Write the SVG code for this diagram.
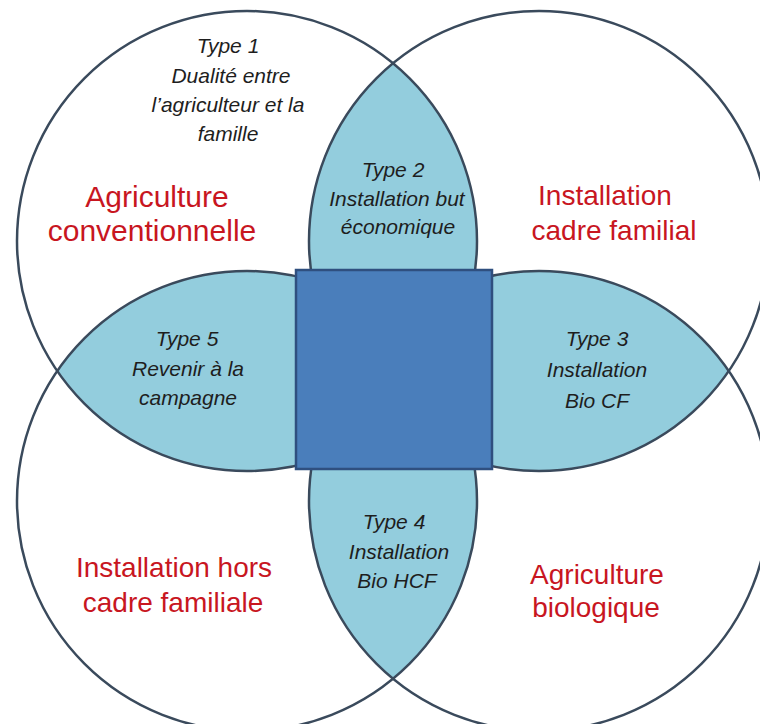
<svg xmlns="http://www.w3.org/2000/svg" width="760" height="724" viewBox="0 0 760 724">
<style>
.lens{fill:#93CDDD;stroke:none}
.ring{fill:none;stroke:#3A4A5C;stroke-width:2.5}
.it{font-family:"Liberation Sans",Arial,sans-serif;font-style:italic;font-size:21px;fill:#1E1E1E;text-anchor:middle}
.red{font-family:"Liberation Sans",Arial,sans-serif;font-size:28px;fill:#C8161F;text-anchor:middle}
.big{font-size:30px}
</style>
<defs>
<clipPath id="cTL"><circle cx="247" cy="241" r="230"/></clipPath>
<clipPath id="cTR"><circle cx="539" cy="241" r="230"/></clipPath>
<clipPath id="cBL"><circle cx="247" cy="501" r="230"/></clipPath>
<clipPath id="cBR"><circle cx="539" cy="501" r="230"/></clipPath>
</defs>
<rect x="0" y="0" width="760" height="724" fill="#FFFFFF"/>
<g id="lens-top">
<circle class="lens" cx="539" cy="241" r="230" clip-path="url(#cTL)"/>
<text class="it" x="393" y="177">Type 2</text>
<text class="it" x="397" y="206">Installation but</text>
<text class="it" x="398" y="234">économique</text>
</g>
<g id="lens-left">
<circle class="lens" cx="247" cy="501" r="230" clip-path="url(#cTL)"/>
<text class="it" x="187" y="346">Type 5</text>
<text class="it" x="188" y="376">Revenir à la</text>
<text class="it" x="188" y="405">campagne</text>
</g>
<g id="lens-right">
<circle class="lens" cx="539" cy="501" r="230" clip-path="url(#cTR)"/>
<text class="it" x="597" y="346">Type 3</text>
<text class="it" x="597" y="377">Installation</text>
<text class="it" x="597" y="408">Bio CF</text>
</g>
<g id="lens-bottom">
<circle class="lens" cx="539" cy="501" r="230" clip-path="url(#cBL)"/>
<text class="it" x="394" y="529">Type 4</text>
<text class="it" x="399" y="559">Installation</text>
<text class="it" x="397" y="588">Bio HCF</text>
</g>
<g id="circle-tl">
<circle class="ring" cx="247" cy="241" r="230"/>
<text class="it" x="228" y="53">Type 1</text>
<text class="it" x="231" y="83">Dualité entre</text>
<text class="it" x="228" y="112">l’agriculteur et la</text>
<text class="it" x="228" y="141">famille</text>
<text class="red big" x="157" y="207">Agriculture</text>
<text class="red big" x="152" y="241">conventionnelle</text>
</g>
<g id="circle-tr">
<circle class="ring" cx="539" cy="241" r="230"/>
<text class="red" x="605" y="205">Installation</text>
<text class="red" x="614" y="240">cadre familial</text>
</g>
<g id="circle-bl">
<circle class="ring" cx="247" cy="501" r="230"/>
<text class="red" x="174" y="577">Installation hors</text>
<text class="red" x="173" y="612">cadre familiale</text>
</g>
<g id="circle-br">
<circle class="ring" cx="539" cy="501" r="230"/>
<text class="red" x="597" y="584">Agriculture</text>
<text class="red" x="596" y="617">biologique</text>
</g>
<g id="center-square">
<rect x="296" y="270" width="196" height="199" fill="#4A7EBB" stroke="#2F4F7F" stroke-width="2.5"/>
</g>
</svg>
